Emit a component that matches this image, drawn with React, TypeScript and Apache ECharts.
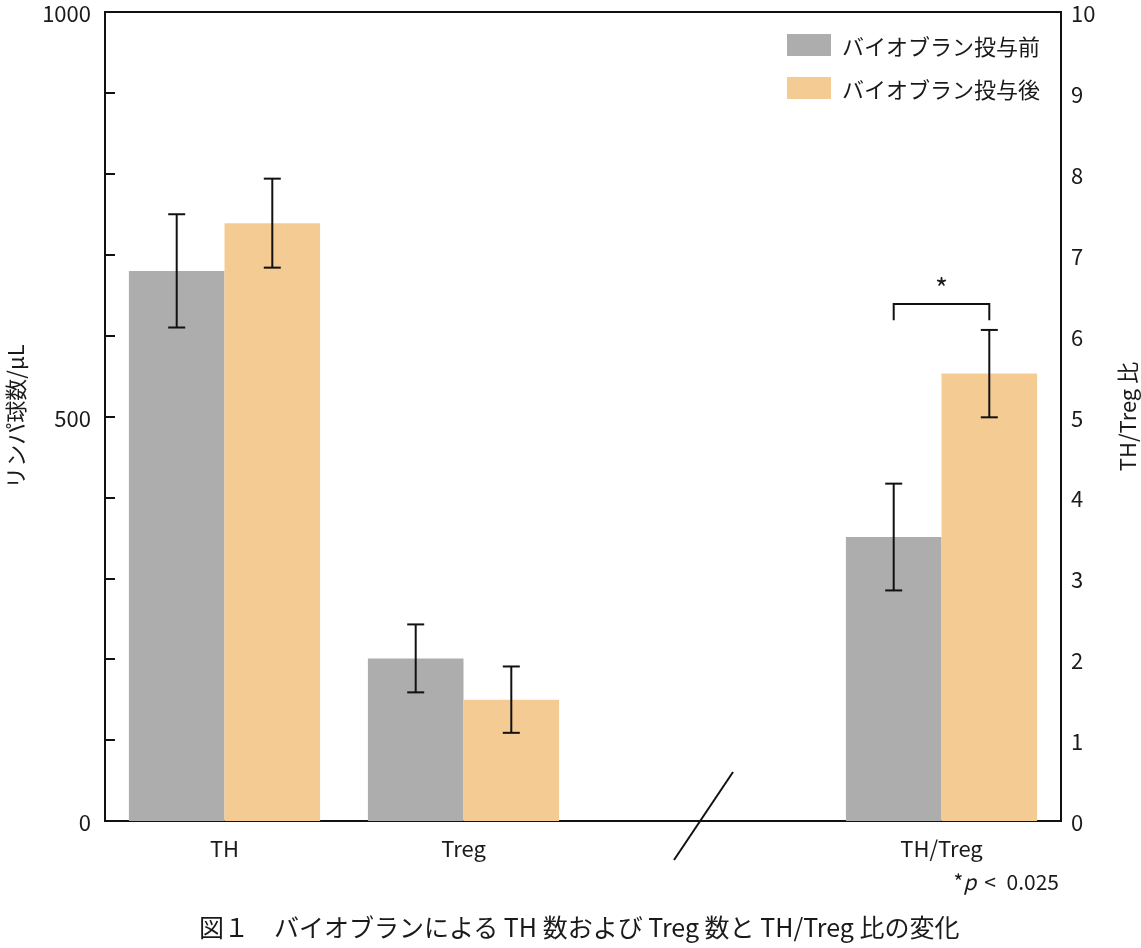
import React, { useEffect, useRef } from "react";
import * as echarts from "echarts";

const categories = ["TH", "Treg", "", "TH/Treg"];
const seriesNames = ["バイオブラン投与前", "バイオブラン投与後"];
const countBefore = [680, 201];
const countBeforeErr = [70, 42];
const countAfter = [739, 150];
const countAfterErr = [55, 41];
const ratioBefore = 3.51;
const ratioBeforeErr = 0.66;
const ratioAfter = 5.53;
const ratioAfterErr = 0.54;
const bracketTop = 6.39;
const bracketFoot = 6.19;
const leftTicks = [0, 500, 1000];

const FONT = "'Noto Sans CJK JP', 'Noto Sans', sans-serif";
const TXT = "#1a1a1a";
const GRAY = "#adadad";
const ORANGE = "#f5cb94";

export default function App() {
  const ref = useRef<HTMLDivElement>(null);
  useEffect(() => {
    if (!ref.current) return;
    const chart = echarts.init(ref.current, null, { renderer: "svg" });

    const countBarsBefore = categories.map((_, i) => (i < countBefore.length ? countBefore[i] : "-"));
    const countBarsAfter = categories.map((_, i) => (i < countAfter.length ? countAfter[i] : "-"));
    const ratioBarsBefore = categories.map((_, i) => (i === 3 ? ratioBefore : "-"));
    const ratioBarsAfter = categories.map((_, i) => (i === 3 ? ratioAfter : "-"));

    const countErr: any[] = [];
    countBefore.forEach((v, i) => countErr.push([i, v, countBeforeErr[i], -1]));
    countAfter.forEach((v, i) => countErr.push([i, v, countAfterErr[i], 1]));
    const ratioErr = [
      [3, ratioBefore, ratioBeforeErr, -1],
      [3, ratioAfter, ratioAfterErr, 1],
    ];

    const errRender = (params: any, api: any) => {
      const cat = api.value(0);
      const v = api.value(1);
      const e = api.value(2);
      const side = api.value(3);
      const band = api.size([1, 0])[0];
      const off = side * band * 0.2;
      const top = api.coord([cat, v + e]);
      const bot = api.coord([cat, v - e]);
      const x = top[0] + off;
      const cap = 8.5;
      const st = { stroke: "#111", lineWidth: 2 };
      return {
        type: "group",
        children: [
          { type: "line", shape: { x1: x, y1: top[1], x2: x, y2: bot[1] }, style: st },
          { type: "line", shape: { x1: x - cap, y1: top[1], x2: x + cap, y2: top[1] }, style: st },
          { type: "line", shape: { x1: x - cap, y1: bot[1], x2: x + cap, y2: bot[1] }, style: st },
        ],
      };
    };

    const bracketRender = (params: any, api: any) => {
      const cat = api.value(0);
      const band = api.size([1, 0])[0];
      const t = api.coord([cat, api.value(1)]);
      const f = api.coord([cat, api.value(2)]);
      const x1 = t[0] - band * 0.2;
      const x2 = t[0] + band * 0.2;
      return {
        type: "group",
        children: [
          {
            type: "polyline",
            shape: { points: [[x1, f[1]], [x1, t[1]], [x2, t[1]], [x2, f[1]]] },
            style: { stroke: "#111", lineWidth: 2, fill: "none" },
          },
          {
            type: "text",
            style: { text: "*", x: t[0], y: t[1] - 3, align: "center", verticalAlign: "bottom", fontSize: 28, fontFamily: FONT, fill: TXT },
          },
        ],
      };
    };

    chart.setOption({
      animation: false,
      textStyle: { fontFamily: FONT, color: TXT },
      grid: { left: 105, right: 80, top: 12, bottom: 127, show: true, borderColor: "#111", borderWidth: 2, outerBoundsMode: "none", containLabel: false },
      legend: {
        left: 782,
        top: 29,
        orient: "vertical",
        itemWidth: 44,
        itemHeight: 22,
        itemGap: 21,
        icon: "rect",
        data: seriesNames,
        textStyle: { fontSize: 22, color: TXT, fontFamily: FONT, padding: [0, 0, 0, 6] },
      },
      xAxis: [
        {
          type: "category",
          data: categories,
          axisLine: { lineStyle: { color: "#111", width: 2 } },
          axisTick: { show: false },
          axisLabel: { fontSize: 22, color: TXT, margin: 15, fontFamily: FONT },
        },
        { type: "category", data: categories, show: false },
      ],
      yAxis: [
        {
          type: "value",
          min: 0,
          max: 1000,
          interval: 100,
          splitLine: { show: false },
          axisLine: { show: true, lineStyle: { color: "#111", width: 2 } },
          axisTick: { show: true, inside: true, length: 10, lineStyle: { color: "#111", width: 2 } },
          axisLabel: {
            fontSize: 22,
            color: TXT,
            margin: 14,
            fontFamily: FONT,
            formatter: (v: number) => (leftTicks.includes(v) ? String(v) : ""),
          },
          name: "リンパ球数/μL",
          nameLocation: "middle",
          nameRotate: 90,
          nameGap: 80,
          nameTextStyle: { fontSize: 22, color: TXT, fontFamily: FONT },
        },
        {
          type: "value",
          min: 0,
          max: 10,
          interval: 1,
          position: "right",
          splitLine: { show: false },
          axisLine: { show: true, lineStyle: { color: "#111", width: 2 } },
          axisTick: { show: false },
          axisLabel: { fontSize: 22, color: TXT, margin: 10, fontFamily: FONT },
          name: "TH/Treg 比",
          nameLocation: "middle",
          nameRotate: 90,
          nameGap: 54,
          nameTextStyle: { fontSize: 22, color: TXT, fontFamily: FONT },
        },
      ],
      series: [
        { name: seriesNames[0], type: "bar", xAxisIndex: 0, yAxisIndex: 0, data: countBarsBefore, barGap: "0%", barCategoryGap: "20%", itemStyle: { color: GRAY } },
        { name: seriesNames[1], type: "bar", xAxisIndex: 0, yAxisIndex: 0, data: countBarsAfter, barGap: "0%", barCategoryGap: "20%", itemStyle: { color: ORANGE } },
        { name: seriesNames[0], type: "bar", xAxisIndex: 1, yAxisIndex: 1, data: ratioBarsBefore, barGap: "0%", barCategoryGap: "20%", itemStyle: { color: GRAY } },
        { name: seriesNames[1], type: "bar", xAxisIndex: 1, yAxisIndex: 1, data: ratioBarsAfter, barGap: "0%", barCategoryGap: "20%", itemStyle: { color: ORANGE } },
        { type: "custom", xAxisIndex: 0, yAxisIndex: 0, data: countErr, renderItem: errRender, z: 5 },
        { type: "custom", xAxisIndex: 1, yAxisIndex: 1, data: ratioErr, renderItem: errRender, z: 5 },
        { type: "custom", xAxisIndex: 1, yAxisIndex: 1, data: [[3, bracketTop, bracketFoot]], renderItem: bracketRender, z: 5 },
      ],
      graphic: [
        { type: "line", shape: { x1: 674, y1: 860, x2: 733, y2: 772 }, style: { stroke: "#111", lineWidth: 2 } },
        {
          type: "text",
          right: 82,
          top: 870,
          style: {
            text: "{a|*}{i|p}{s|\u2002}{a|<\u2002}{a|0.025}",
            rich: {
              a: { fontSize: 21, fontFamily: FONT, fill: TXT },
              s: { fontSize: 21, fontFamily: FONT, fill: TXT, width: 8 },
              i: { fontSize: 21, fontFamily: FONT, fontStyle: "italic", fill: TXT },
            },
          },
        },
        {
          type: "text",
          left: 199,
          top: 913,
          style: { text: "図１　バイオブランによる TH 数および Treg 数と TH/Treg 比の変化", fontSize: 25, fontFamily: FONT, fill: TXT },
        },
      ],
    });
    return () => chart.dispose();
  }, []);
  return <div ref={ref} style={{ position: "fixed", left: 0, top: 0, width: 1141, height: 948 }} />;
}
